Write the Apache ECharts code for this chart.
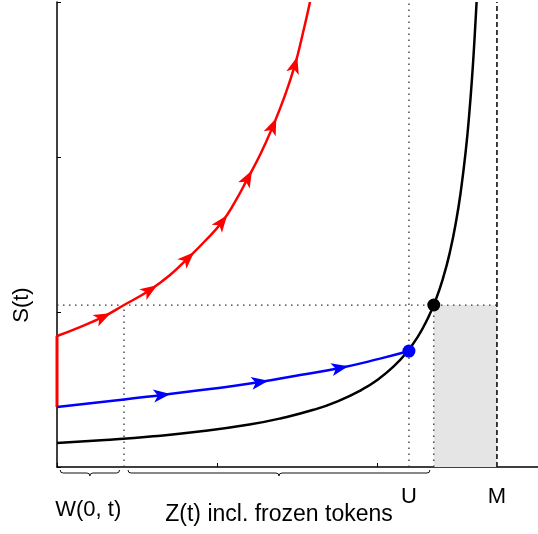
<!DOCTYPE html>
<html lang="en">
<head>
<meta charset="UTF-8">
<script src="https://cdn.jsdelivr.net/npm/echarts@6/dist/echarts.min.js"></script>
<title>S(t)</title>
<style>html,body{margin:0;padding:0;background:#fff;}</style>
</head>
<body>
<div id="main" style="width:538px;height:534px;"></div>
<script type="text/javascript">
// black curve (the limit curve)
var blackX = [0, 0.3, 0.6, 0.9, 1.2, 1.4, 1.6, 1.75, 1.9, 2.0, 2.1, 2.18, 2.25, 2.31, 2.36, 2.41, 2.45, 2.49, 2.52, 2.55, 2.57, 2.59, 2.605, 2.617];
var blackY = [0.155, 0.174, 0.198, 0.230, 0.274, 0.315, 0.369, 0.424, 0.498, 0.563, 0.649, 0.739, 0.840, 0.953, 1.072, 1.226, 1.384, 1.590, 1.790, 2.046, 2.263, 2.531, 2.777, 3.0];

// red path: jump on the axis, then the steep curve
var redJumpY = [0.387, 0.845];
var redX = [0, 0.143, 0.287, 0.418, 0.580, 0.705, 0.817, 0.923, 1.029, 1.110, 1.191, 1.269, 1.347, 1.416, 1.484, 1.531, 1.578];
var redY = [0.845, 0.903, 0.968, 1.045, 1.142, 1.239, 1.348, 1.458, 1.581, 1.710, 1.865, 2.019, 2.200, 2.381, 2.594, 2.787, 3.0];
var redArrowX = [0.287, 0.580, 0.817, 1.029, 1.191, 1.347, 1.484];
var redArrowY = [0.968, 1.142, 1.348, 1.581, 1.865, 2.200, 2.594];

// blue path
var blueX = [0, 0.418, 0.655, 0.954, 1.266, 1.516, 1.765, 2.015, 2.195];
var blueY = [0.387, 0.435, 0.465, 0.503, 0.548, 0.594, 0.639, 0.699, 0.748];
var blueArrowX = [0.655, 1.266, 1.765];
var blueArrowY = [0.465, 0.548, 0.639];

// reference levels
var wX = 0.418;
var uX = 2.195;
var cutX = 2.35;
var mX = 2.744;
var sLevel = 1.045;
var blueDot = [2.195, 0.748];
var blackDot = [2.35, 1.045];

var font = '"Liberation Sans", Arial, sans-serif';

function zip(xs, ys) {
    return xs.map(function (x, i) { return [x, ys[i]]; });
}

function refLine(data, dash, color, width) {
    return {
        type: 'line', data: data, symbol: 'none', silent: true, z: 1,
        lineStyle: { color: color, width: width, type: dash }
    };
}

var arrowPath = 'path://M0,0 L16,6 L0,12 L4,6 Z';

var chart = echarts.init(document.getElementById('main'));

var option = {
    animation: false,
    grid: { left: 57, right: 0, top: 2, bottom: 67 },
    xAxis: {
        type: 'value', min: 0, max: 3, interval: 1,
        axisLine: { show: true, lineStyle: { color: '#000', width: 1.5 } },
        axisTick: { show: true, inside: true, length: 4, lineStyle: { color: '#000' } },
        axisLabel: { show: false },
        splitLine: { show: false }
    },
    yAxis: {
        type: 'value', min: 0, max: 3, interval: 1,
        axisLine: { show: true, lineStyle: { color: '#000', width: 1.5 } },
        axisTick: { show: true, inside: true, length: 4, lineStyle: { color: '#000' } },
        axisLabel: { show: false },
        splitLine: { show: false }
    },
    series: [
        {
            type: 'line', data: [], silent: true,
            markArea: {
                silent: true,
                itemStyle: { color: '#e5e5e5' },
                data: [[{ coord: [cutX, 0] }, { coord: [mX, sLevel] }]]
            }
        },
        refLine([[wX, 0], [wX, sLevel]], [1.5, 4.5], '#333', 1.3),
        refLine([[0, sLevel], [mX, sLevel]], [1.5, 4.5], '#333', 1.3),
        refLine([[uX, 0], [uX, 3]], [1.5, 4.5], '#333', 1.3),
        refLine([[cutX, 0], [cutX, sLevel]], [1.5, 4.5], '#333', 1.3),
        refLine([[mX, 0], [mX, 3]], [5, 3], '#000', 1.5),
        {
            type: 'line', data: zip(blackX, blackY), smooth: true, symbol: 'none', z: 3,
            lineStyle: { color: '#000', width: 2.5 }
        },
        {
            type: 'line', data: [[0, redJumpY[0]], [0, redJumpY[1]]], symbol: 'none', clip: false, z: 4,
            lineStyle: { color: '#ff0000', width: 3 }
        },
        {
            type: 'line', data: zip(redX, redY), smooth: true, symbol: 'none', z: 4,
            lineStyle: { color: '#ff0000', width: 2.5 }
        },
        {
            type: 'line', data: zip(blueX, blueY), smooth: true, symbol: 'none', z: 4,
            lineStyle: { color: '#0000ff', width: 2.5 }
        }
    ]
};
chart.setOption(option);

// arrow heads, rotated along the path in pixel space
function arrowAngle(ax, xs, ys) {
    var i = xs.indexOf(ax);
    var lo = Math.max(i - 1, 0), hi = Math.min(i + 1, xs.length - 1);
    var p0 = chart.convertToPixel({ gridIndex: 0 }, [xs[lo], ys[lo]]);
    var p1 = chart.convertToPixel({ gridIndex: 0 }, [xs[hi], ys[hi]]);
    return Math.atan2(-(p1[1] - p0[1]), p1[0] - p0[0]) * 180 / Math.PI;
}

function arrowSeries(axs, ays, xs, ys, color) {
    return {
        type: 'scatter', z: 5, silent: true,
        symbol: arrowPath, symbolSize: [17, 13],
        data: axs.map(function (x, i) {
            return { value: [x, ays[i]], symbolRotate: arrowAngle(x, xs, ys) };
        }),
        itemStyle: { color: color, opacity: 1 }
    };
}

option.series.push(arrowSeries(redArrowX, redArrowY, redX, redY, '#ff0000'));
option.series.push(arrowSeries(blueArrowX, blueArrowY, blueX, blueY, '#0000ff'));
option.series.push({
    type: 'scatter', z: 6, silent: true, symbolSize: 13,
    itemStyle: { opacity: 1 },
    data: [{ value: blueDot, itemStyle: { color: '#0000ff', opacity: 1 } }, { value: blackDot, itemStyle: { color: '#000', opacity: 1 } }]
});

// braces and labels under the x axis
function px(x, y) { return chart.convertToPixel({ gridIndex: 0 }, [x, y]); }

function brace(xa, xb) {
    var a = px(xa, 0)[0], b = px(xb, 0)[0];
    var y0 = px(0, 0)[1] + 3, r = 3;
    var mid = (a + b) / 2;
    var st = { stroke: '#111', lineWidth: 1, fill: null };
    var parts = [
        { type: 'bezierCurve', shape: { x1: a, y1: y0, x2: a + r, y2: y0 + r, cpx1: a, cpy1: y0 + r } },
        { type: 'line', shape: { x1: a + r, y1: y0 + r, x2: mid - r, y2: y0 + r } },
        { type: 'bezierCurve', shape: { x1: mid - r, y1: y0 + r, x2: mid, y2: y0 + 2 * r, cpx1: mid, cpy1: y0 + r } },
        { type: 'bezierCurve', shape: { x1: mid, y1: y0 + 2 * r, x2: mid + r, y2: y0 + r, cpx1: mid, cpy1: y0 + r } },
        { type: 'line', shape: { x1: mid + r, y1: y0 + r, x2: b - r, y2: y0 + r } },
        { type: 'bezierCurve', shape: { x1: b - r, y1: y0 + r, x2: b, y2: y0, cpx1: b, cpy1: y0 + r } }
    ];
    parts.forEach(function (p) { p.style = st; p.silent = true; });
    return { type: 'group', children: parts };
}

function label(text, x, y, rot) {
    return {
        type: 'text', x: x, y: y, rotation: rot || 0,
        style: { text: text, font: '22px ' + font, fill: '#000', align: 'center', verticalAlign: 'middle' }
    };
}

var y0px = px(0, 0)[1];
option.graphic = [
    brace(0.02, 0.39),
    brace(0.443, 2.326),
    label('W(0, t)', px(0.195, 0)[0], y0px + 43),
    {
        type: 'text', x: 279, y: y0px + 48,
        style: { text: 'Z(t) incl. frozen tokens', font: '23px ' + font, fill: '#000', align: 'center', verticalAlign: 'middle' }
    },
    label('U', px(uX, 0)[0], y0px + 30),
    label('M', px(mX, 0)[0], y0px + 30),
    label('S(t)', 22, px(0, sLevel)[1], Math.PI / 2)
];

chart.setOption(option);
</script>
</body>
</html>
